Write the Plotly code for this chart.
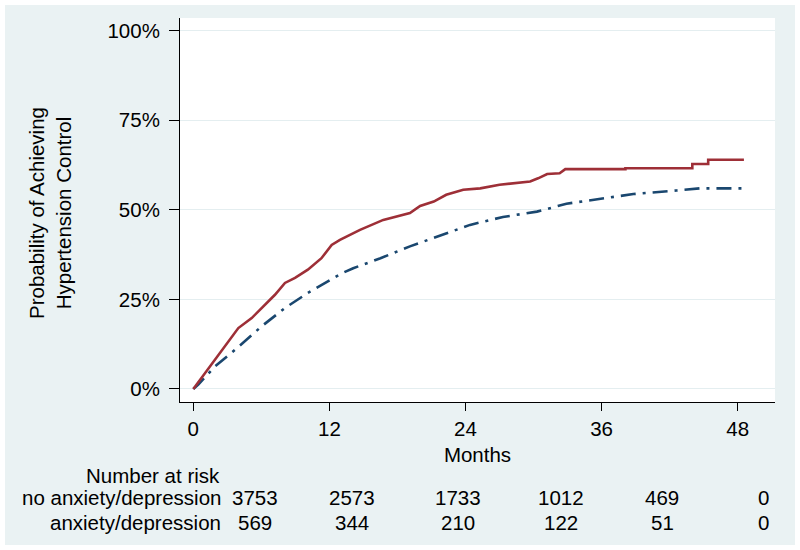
import plotly.graph_objects as go

# ---- data ----
red_t = [0, 1.03, 1.62, 2.2, 3.09, 3.97, 5.15, 6.03, 7.2, 8.08, 8.97, 10.1, 11.3, 12.2, 12.93,
         14.7, 16.75, 19.1, 20.0, 21.2, 22.3, 23.8, 25.3, 27.0, 29.7, 30.4, 31.2, 32.3, 32.8,
         38.1, 38.1, 44.0, 44.0, 45.4, 45.4, 48.55]
red_v = [0, 0.045, 0.068, 0.096, 0.133, 0.170, 0.198, 0.226, 0.263, 0.296, 0.310, 0.333, 0.365,
         0.402, 0.416, 0.444, 0.472, 0.491, 0.511, 0.523, 0.542, 0.556, 0.560, 0.570, 0.579,
         0.588, 0.600, 0.602, 0.6135, 0.6135, 0.616, 0.616, 0.628, 0.628, 0.640, 0.640]

blue_t = [0, 0.44, 1.9, 3.7, 6.03, 8.08, 10.1, 12.2, 13.1, 14.1, 16.5, 19.1, 21.75, 24.4, 27.3,
          30.3, 32.9, 35.6, 38.8, 42.6, 44.7, 48.55]
blue_v = [0, 0.012, 0.063, 0.11, 0.175, 0.226, 0.268, 0.305, 0.323, 0.337, 0.365, 0.398, 0.427,
          0.458, 0.480, 0.495, 0.517, 0.530, 0.544, 0.554, 0.560, 0.560]

x_ticks = [0, 12, 24, 36, 48]
y_ticks = [0, 0.25, 0.5, 0.75, 1.0]
y_ticklabels = ["0%", "25%", "50%", "75%", "100%"]

risk_groups = ["no anxiety/depression", "anxiety/depression"]
risk_no_anx = [3753, 2573, 1733, 1012, 469, 0]
risk_anx = [569, 344, 210, 122, 51, 0]

# ---- layout geometry (pixels) ----
W, H = 800, 550
L, R, T, B = 180, 25, 18, 148
pw, ph = W - L - R, H - T - B

def px_x(px):
    return (px - L) / pw

def px_y(py):
    return (H - B - py) / ph

FONT = "Liberation Sans, Arial, sans-serif"
FS = 20.5
BG = "#EAF2F3"

fig = go.Figure()
fig.add_trace(go.Scatter(x=blue_t, y=blue_v, mode="lines",
                         line=dict(color="#1A476F", width=2.6, dash="15px,7px,3px,7px"),
                         showlegend=False, hoverinfo="skip"))
fig.add_trace(go.Scatter(x=red_t, y=red_v, mode="lines",
                         line=dict(color="#9E2F37", width=2.6),
                         showlegend=False, hoverinfo="skip"))

fig.update_layout(
    width=W, height=H,
    margin=dict(l=L, r=R, t=T, b=B),
    paper_bgcolor=BG, plot_bgcolor="white",
    font=dict(family=FONT, size=FS, color="black"),
    xaxis=dict(range=[-1.173, 51.29], tickvals=x_ticks, ticks="outside", ticklen=8,
               tickwidth=1, tickcolor="black", showline=True, linecolor="black", linewidth=1,
               showgrid=False, zeroline=False, tickfont=dict(size=FS),
               title=dict(text="Months", font=dict(size=FS), standoff=9)),
    yaxis=dict(range=[-0.0363, 1.0354], tickvals=y_ticks, ticktext=y_ticklabels,
               ticks="outside", ticklen=10, tickwidth=1, tickcolor="black",
               showline=True, linecolor="black", linewidth=1, ticklabelstandoff=5,
               showgrid=True, gridcolor="#E4EEF0", gridwidth=1, zeroline=False,
               tickfont=dict(size=FS)),
)

# white outer border
fig.add_shape(type="rect", xref="paper", yref="paper",
              x0=px_x(0), x1=px_x(W), y0=px_y(H), y1=px_y(0),
              line=dict(color="white", width=10), fillcolor="rgba(0,0,0,0)", layer="above")

# y-axis title
fig.add_annotation(text="Probability of Achieving<br>Hypertension Control", textangle=-90,
                   xref="paper", yref="paper", x=px_x(50), y=px_y(213),
                   xanchor="center", yanchor="middle", showarrow=False,
                   font=dict(size=FS, family=FONT, color="black"))

# risk table
fig.add_annotation(text="Number at risk", xref="paper", yref="paper",
                   x=px_x(153), y=px_y(475), xanchor="center", yanchor="middle",
                   showarrow=False, font=dict(size=FS, family=FONT, color="black"))
row_y = [497, 522]
col_x = [255, 352, 458, 561, 662, 763]
for label, vals, ry in zip(risk_groups, [risk_no_anx, risk_anx], row_y):
    fig.add_annotation(text=label, xref="paper", yref="paper", x=px_x(223), y=px_y(ry),
                       xanchor="right", yanchor="middle", showarrow=False,
                       font=dict(size=FS, family=FONT, color="black"))
    for v, cx in zip(vals, col_x):
        fig.add_annotation(text=str(v), xref="paper", yref="paper", x=px_x(cx), y=px_y(ry),
                           xanchor="center", yanchor="middle", showarrow=False,
                           font=dict(size=FS, family=FONT, color="black"))

fig.write_html("out.html", config={"displayModeBar": False},
               post_script="document.body.style.margin='0';document.body.style.overflow='hidden';")
